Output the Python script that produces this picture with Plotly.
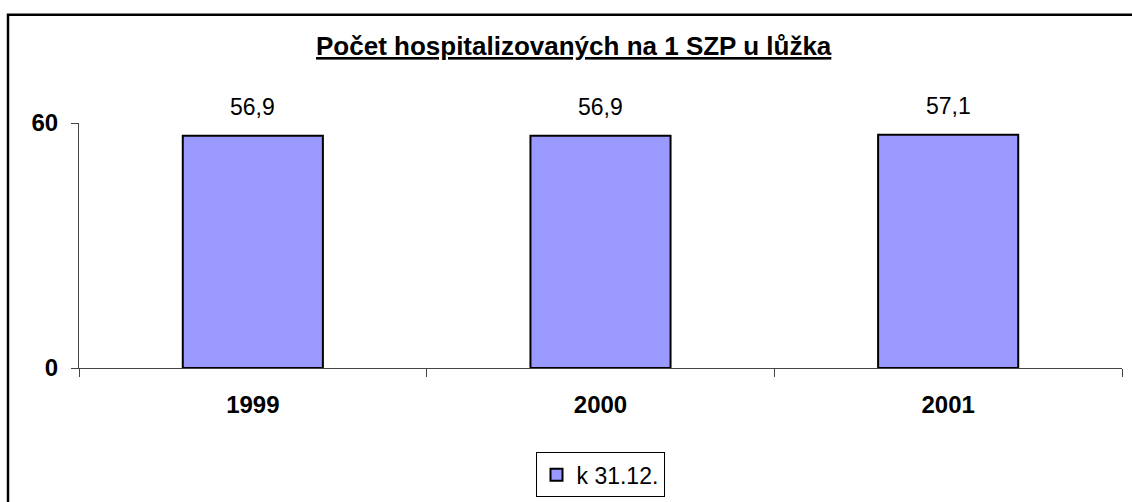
import plotly.graph_objects as go

categories = ["1999", "2000", "2001"]
values = [56.9, 56.9, 57.1]
series_name = "k 31.12."
title_text = "Počet hospitalizovaných na 1 SZP u lůžka"
y_ticks = [0, 60]

FONT = "Liberation Sans, Arial, sans-serif"
W, H = 1132, 502
L, R, T, B = 79, 10, 123, 133.5
pw = W - L - R
ph = H - T - B

def px_x(px):
    return (px - L) / pw

def px_y(py):
    return (H - B - py) / ph

fig = go.Figure()
fig.add_trace(go.Bar(
    x=categories, y=values, name=series_name,
    marker=dict(color="#9999FF", line=dict(color="black", width=2)),
    width=0.403, showlegend=True,
))

for i, v in enumerate(values):
    fig.add_annotation(x=i, y=v, xref="x", yref="y", text=f"{v:.1f}".replace(".", ","),
                       showarrow=False, yanchor="bottom", yshift=14,
                       font=dict(family=FONT, size=23, color="black"))

fig.add_annotation(xref="paper", yref="paper", x=px_x(574), y=px_y(46),
                   text=f"<b><u>{title_text}</u></b>", showarrow=False,
                   xanchor="center", yanchor="middle",
                   font=dict(family=FONT, size=26, color="black"))

# outer chart border (left and top edges visible)
fig.add_shape(type="rect", xref="paper", yref="paper",
              x0=px_x(8), x1=px_x(1145), y0=px_y(520), y1=px_y(14.5),
              line=dict(color="black", width=2.5), layer="above")

fig.update_layout(
    width=W, height=H,
    margin=dict(l=L, r=R, t=T, b=B, autoexpand=False),
    paper_bgcolor="white", plot_bgcolor="white",
    showlegend=True,
    legend=dict(orientation="h", x=px_x(600), y=px_y(453), xanchor="center", yanchor="top",
                bordercolor="black", borderwidth=1, bgcolor="white",
                font=dict(family=FONT, size=23, color="black"), itemwidth=30),
    xaxis=dict(type="category", showline=True, linecolor="#444", linewidth=1,
               ticks="outside", tickson="boundaries", ticklen=8, tickcolor="#444",
               tickfont=dict(family=FONT, size=24, color="black", weight="bold"),
               ticklabelstandoff=15, showgrid=False, zeroline=False,
               range=[-0.5, 2.5]),
    yaxis=dict(range=[0, 60], tickvals=y_ticks, showline=True, linecolor="#444", linewidth=1,
               ticks="outside", ticklen=7, tickcolor="#444",
               tickfont=dict(family=FONT, size=24, color="black", weight="bold"),
               ticklabelstandoff=8, showgrid=False, zeroline=False),
)

fig.write_html("out.html", config={"displayModeBar": False},
               post_script="document.body.style.margin='0';document.body.style.overflow='hidden';")
